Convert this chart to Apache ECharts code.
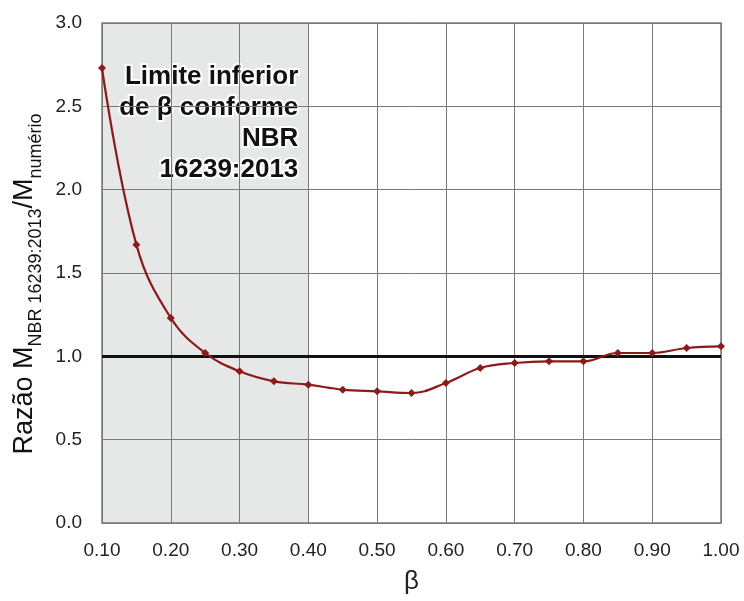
<!DOCTYPE html>
<html>
<head>
<meta charset="utf-8">
<script src="https://cdn.jsdelivr.net/npm/echarts@6/dist/echarts.min.js"></script>
<style>
  html, body { margin: 0; padding: 0; background: #ffffff; }
  #chart { width: 744px; height: 601px; }
</style>
</head>
<body>
<div id="chart"></div>
<script>
// β values and the ratio M_NBR 16239:2013 / M_numério
const beta = [0.10, 0.15, 0.20, 0.25, 0.30, 0.35, 0.40, 0.45, 0.50, 0.55,
              0.60, 0.65, 0.70, 0.75, 0.80, 0.85, 0.90, 0.95, 1.00];
const ratio = [2.73, 1.67, 1.23, 1.02, 0.91, 0.85, 0.83, 0.80, 0.79, 0.78,
               0.84, 0.93, 0.96, 0.97, 0.97, 1.02, 1.02, 1.05, 1.06];

// Reference ratio line and the lower β limit band
const referenceRatio = 1.0;
const lowerLimitBand = [0.10, 0.40];
const bandText = 'Limite inferior\nde β conforme\nNBR\n16239:2013';

const xTicks = { min: 0.10, max: 1.00, interval: 0.10 };
const yTicks = { min: 0.0, max: 3.0, interval: 0.5 };

const FONT = '"Liberation Sans", Arial, sans-serif';
const chart = echarts.init(document.getElementById('chart'));

chart.setOption({
  animation: false,
  backgroundColor: '#ffffff',
  textStyle: { fontFamily: FONT },
  grid: {
    left: 102, right: 23, top: 23, bottom: 78,
    outerBoundsMode: 'none',
    containLabel: false,
    show: true, borderColor: '#7a7a7a', borderWidth: 1.5
  },
  xAxis: {
    type: 'value',
    min: xTicks.min, max: xTicks.max, interval: xTicks.interval,
    name: 'β', nameLocation: 'middle', nameGap: 46,
    nameTextStyle: { fontSize: 26, color: '#222', fontFamily: FONT },
    axisLine: { show: false },
    axisTick: { show: false },
    axisLabel: { fontSize: 19, color: '#222', margin: 18, formatter: v => v.toFixed(2) },
    splitLine: { show: true, lineStyle: { color: '#7a7a7a', width: 1 } }
  },
  yAxis: {
    type: 'value',
    min: yTicks.min, max: yTicks.max, interval: yTicks.interval,
    name: '{main|Razão M}{sub|NBR 16239:2013}{main|/M}{sub|numério}',
    nameLocation: 'middle', nameGap: 64, nameRotate: 90,
    nameTextStyle: {
      color: '#111',
      padding: [0, 0, 0, -22],
      rich: {
        main: { fontSize: 27, fontFamily: FONT, color: '#111', verticalAlign: 'bottom', lineHeight: 32 },
        sub: { fontSize: 18, fontFamily: FONT, color: '#111', verticalAlign: 'bottom', lineHeight: 24, padding: [0, 0, -7, 0] }
      }
    },
    axisLine: { show: false },
    axisTick: { show: false },
    axisLabel: { fontSize: 19, color: '#222', margin: 20, formatter: v => v.toFixed(1) },
    splitLine: { show: true, lineStyle: { color: '#7a7a7a', width: 1 } }
  },
  series: [
    {
      // shaded band for the lower β limit, kept beneath the grid lines
      type: 'line',
      data: [],
      z: -1,
      silent: true,
      markArea: {
        z: -1,
        silent: true,
        itemStyle: { color: '#e6e7e7' },
        label: {
          show: true,
          position: 'insideTopRight',
          distance: 0,
          offset: [-10, 38],
          align: 'right',
          formatter: bandText,
          fontSize: 26,
          fontWeight: 'bold',
          lineHeight: 31,
          color: '#111',
          fontFamily: FONT,
          textBorderColor: '#ffffff',
          textBorderWidth: 4
        },
        data: [[{ xAxis: lowerLimitBand[0] }, { xAxis: lowerLimitBand[1] }]]
      }
    },
    {
      type: 'line',
      data: beta.map((b, i) => [b, ratio[i]]),
      smooth: 0.4,
      symbol: 'diamond',
      symbolSize: 8,
      lineStyle: { color: '#8b1a1a', width: 2.2 },
      itemStyle: { color: '#8b1a1a' },
      z: 5,
      markLine: {
        silent: true,
        symbol: 'none',
        z: 4,
        label: { show: false },
        lineStyle: { color: '#111', width: 3, type: 'solid' },
        data: [{ yAxis: referenceRatio }]
      }
    }
  ]
});
</script>
</body>
</html>
